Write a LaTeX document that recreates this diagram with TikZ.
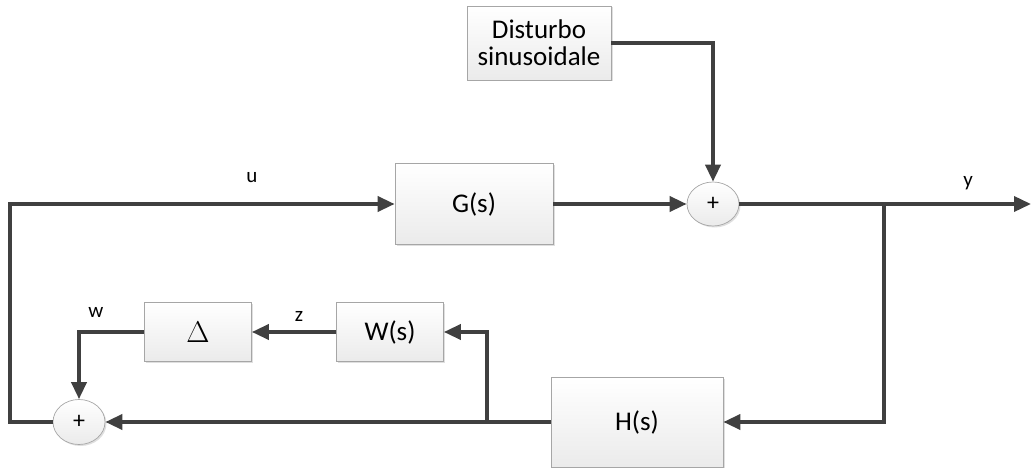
\RequirePackage{fix-cm}
\documentclass[tikz,border=0pt]{standalone}
\usepackage{fontspec}
\setmainfont{Carlito}
\usepackage{tikz}
\usetikzlibrary{shapes.geometric,arrows.meta,positioning,shadows,calc}
\definecolor{wire}{HTML}{404040}
\definecolor{rim}{HTML}{A6A6A6}

\begin{document}
\begin{tikzpicture}[x=1pt,y=-1pt,
    >={Triangle[length=17pt,width=15pt]},
    blk/.style={draw=rim,line width=0.7pt,top color=white,bottom color=black!8,
        drop shadow={opacity=0.25,shadow xshift=1.5pt,shadow yshift=-1.5pt},
        inner sep=2pt,align=center,font=\fontsize{27}{30}\selectfont},
    sumnode/.style={ellipse,draw=rim,line width=0.7pt,top color=white,bottom color=black!8,
        drop shadow={opacity=0.25,shadow xshift=1.5pt,shadow yshift=-1.5pt},
        inner sep=0pt,minimum width=52pt,minimum height=44pt,font=\fontsize{24}{26}\selectfont},
    sig/.style={draw=wire,line width=3.6pt},
    lbl/.style={font=\fontsize{21}{24}\selectfont}]
    \useasboundingbox (0,0) rectangle (1031,468);

    % blocks
    \node[blk,minimum width=144pt,minimum height=74pt] (dist) at (539,43) {Disturbo\\[-3pt]sinusoidale};
    \node[blk,minimum width=158pt,minimum height=81pt] (G) at (474,204) {G(s)};
    \node[blk,minimum width=172pt,minimum height=90pt] (H) at (637,422) {H(s)};
    \node[blk,minimum width=107pt,minimum height=59pt] (W) at (390,332) {W(s)};
    \node[blk,minimum width=107pt,minimum height=59pt] (Delta) at (198,332) {\fontsize{30}{32}\selectfont$\Delta$};
    \node[sumnode] (sum1) at (713,204) {+};
    \node[sumnode,minimum height=45pt] (sum2) at (79,422) {+};

    % branch points and free ends
    \coordinate (out) at (1031,204);
    \coordinate (br1) at (884,204);
    \coordinate (br2) at (487,422);
    \coordinate (lft) at (10,422);

    % signals
    \draw[sig,->] (dist.east) -| (sum1.north);
    \draw[sig,->] (G.east) -- (sum1.west);
    \draw[sig,->] (sum1.east) -- (out);
    \draw[sig,->] (br1) |- (H.east);
    \draw[sig,->] (H.west) -- (sum2.east);
    \draw[sig,->] (br2) |- (W.east);
    \draw[sig,->] (W.west) -- (Delta.east);
    \draw[sig,->] (Delta.west) -| (sum2.north);
    \draw[sig,->] (sum2.west) -- (lft) |- (G.west);

    % signal names
    \foreach \name/\x/\y in {u/252/178, y/968/183, w/96/312, z/299/316} {
        \node[lbl] (lab-\name) at (\x,\y) {\name};
    }
\end{tikzpicture}
\end{document}
